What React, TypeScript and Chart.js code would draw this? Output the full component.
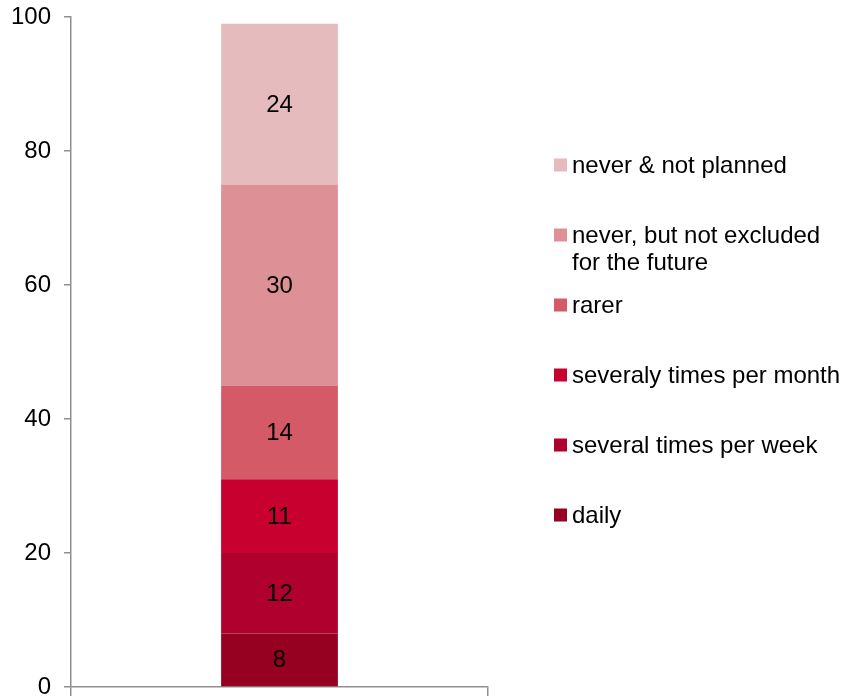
import React, { useEffect, useRef } from "react";
import { Chart, registerables } from "chart.js";

Chart.register(...registerables);

const categories = [""];
const seriesNames = [
  "daily",
  "several times per week",
  "severaly times per month",
  "rarer",
  "never, but not excluded\nfor the future",
  "never & not planned",
];
const seriesValues = [8, 12, 11, 14, 30, 24];
const seriesColors = ["#960021", "#B0002E", "#C80030", "#D55A68", "#DD9197", "#E6BBBE"];
const yTicks = [0, 20, 40, 60, 80, 100];

const FONT = "'Liberation Sans', Arial, sans-serif";
const AXIS_COLOR = "#8f8f8f";

// Writes each segment's value in the middle of its bar piece.
const segmentLabels = {
  id: "segmentLabels",
  afterDatasetsDraw(chart: any) {
    const ctx = chart.ctx;
    ctx.save();
    ctx.font = `24px ${FONT}`;
    ctx.fillStyle = "#000";
    ctx.textAlign = "center";
    ctx.textBaseline = "middle";
    chart.data.datasets.forEach((ds: any, i: number) => {
      const meta = chart.getDatasetMeta(i);
      meta.data.forEach((el: any, j: number) => {
        const v = ds.data[j];
        ctx.fillText(String(v), el.x, (el.y + el.base) / 2 + 1);
      });
    });
    ctx.restore();
  },
};

// Legend to the right of the plot, top series first, with square swatches.
const sideLegend = {
  id: "sideLegend",
  afterDraw(chart: any) {
    const ctx = chart.ctx;
    const area = chart.chartArea;
    const x0 = area.right + 66;
    const yStart = 165;
    const step = 70;
    const box = 13;
    ctx.save();
    ctx.font = `24px ${FONT}`;
    ctx.textAlign = "left";
    ctx.textBaseline = "middle";
    const ds = [...chart.data.datasets].reverse();
    ds.forEach((d: any, i: number) => {
      const cy = yStart + i * step;
      ctx.fillStyle = d.backgroundColor;
      ctx.fillRect(x0, cy - box / 2, box, box);
      ctx.fillStyle = "#000";
      const lines = String(d.label).split("\n");
      lines.forEach((line: string, k: number) => {
        ctx.fillText(line, x0 + 18, cy + 1 + k * 27);
      });
    });
    ctx.restore();
  },
};

export default function App() {
  const canvasRef = useRef<HTMLCanvasElement | null>(null);

  useEffect(() => {
    if (!canvasRef.current) return;
    const chart = new Chart(canvasRef.current, {
      type: "bar",
      data: {
        labels: categories,
        datasets: seriesNames.map((name, i) => ({
          label: name,
          data: [seriesValues[i]],
          backgroundColor: seriesColors[i],
          borderWidth: 0,
          categoryPercentage: 1,
          barPercentage: 0.28,
        })),
      },
      options: {
        animation: false,
        responsive: false,
        maintainAspectRatio: false,
        layout: { padding: { left: 0, right: 353, top: 17, bottom: 0 } },
        plugins: {
          legend: { display: false },
          tooltip: { enabled: false },
          title: { display: false },
        },
        scales: {
          x: {
            stacked: true,
            offset: true,
            ticks: { display: false },
            grid: {
              offset: true,
              drawOnChartArea: false,
              drawTicks: true,
              tickLength: 9,
              color: AXIS_COLOR,
              lineWidth: 1.5,
            },
            border: { display: true, color: AXIS_COLOR, width: 1.5 },
            afterFit: (s: any) => {
              s.height = 9;
              s.paddingLeft = 0;
              s.paddingRight = 0;
            },
          },
          y: {
            stacked: true,
            min: 0,
            max: 100,
            afterBuildTicks: (s: any) => {
              s.ticks = yTicks.map((v) => ({ value: v }));
            },
            ticks: {
              color: "#000",
              font: { family: FONT, size: 24 },
              padding: 13,
            },
            grid: {
              drawOnChartArea: false,
              drawTicks: true,
              tickLength: 7,
              color: AXIS_COLOR,
              lineWidth: 1.5,
            },
            border: { display: true, color: AXIS_COLOR, width: 1.5 },
            afterFit: (s: any) => {
              s.width = 71;
              s.paddingTop = 0;
              s.paddingBottom = 0;
            },
          },
        },
      },
      plugins: [segmentLabels, sideLegend],
    });
    return () => chart.destroy();
  }, []);

  return (
    <div style={{ position: "fixed", left: 0, top: 0, width: 841, height: 696, background: "#fff" }}>
      <canvas ref={canvasRef} width={841} height={696} style={{ display: "block" }} />
    </div>
  );
}
